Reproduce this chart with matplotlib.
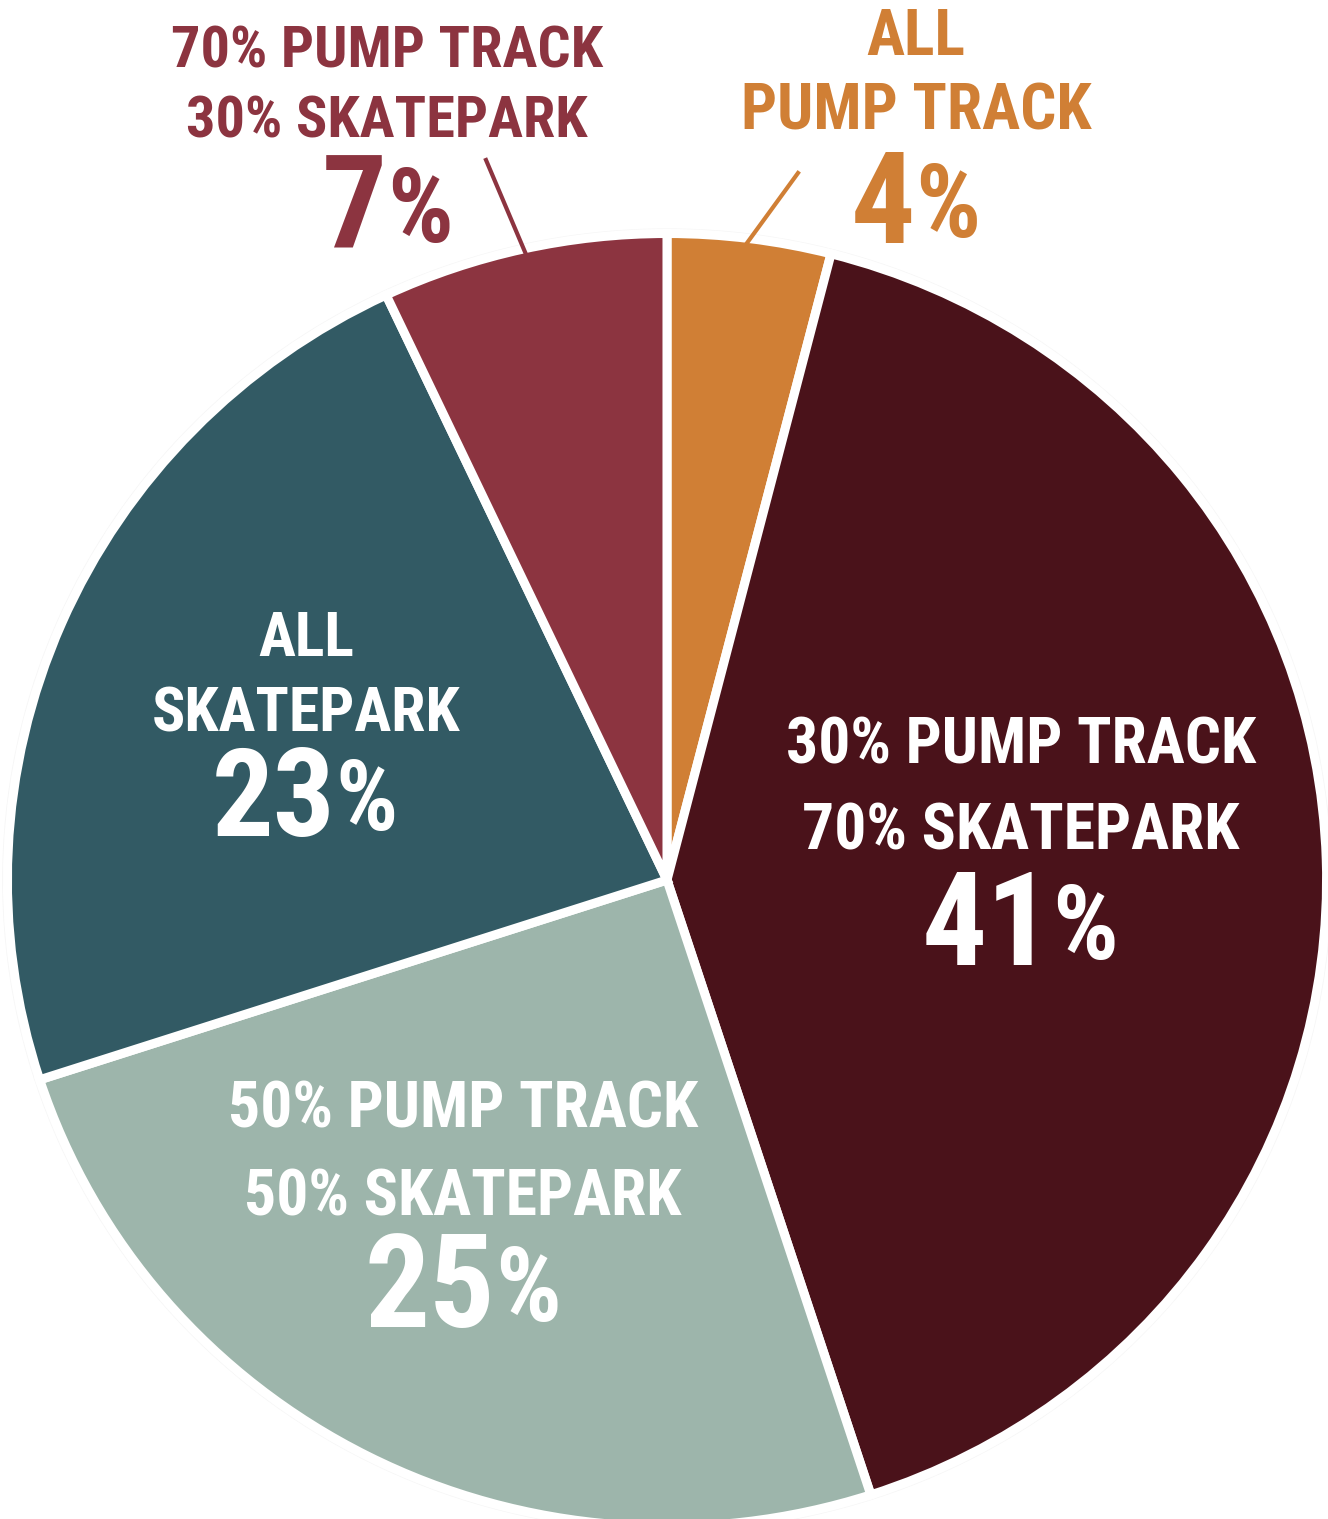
import matplotlib
matplotlib.use("Agg")
import matplotlib.pyplot as plt
from matplotlib import font_manager
from matplotlib.patches import Ellipse

# slice data, clockwise from 12 o'clock
shares = [4, 41, 25, 23, 7]
colors = ["#D07F35", "#4A121A", "#9DB5AB", "#325A64", "#8C3440"]
label_lines = [
    ["ALL", "PUMP TRACK"],
    ["30% PUMP TRACK", "70% SKATEPARK"],
    ["50% PUMP TRACK", "50% SKATEPARK"],
    ["ALL", "SKATEPARK"],
    ["70% PUMP TRACK", "30% SKATEPARK"],
]
label_colors = ["#D07F35", "white", "white", "white", "#8C3440"]

# pick a condensed face if there is one
names = {f.name for f in font_manager.fontManager.ttflist}
FONT = "Roboto"
for cand in ["Roboto Condensed", "Liberation Sans Narrow"]:
    if cand in names:
        FONT = cand
        break

W, H = 1328, 1519
CX, CY, RX, RY = 667, 880, 655, 642   # pie centre / radii in image pixels

fig = plt.figure(figsize=(W / 100, H / 100), dpi=100)
fig.patch.set_facecolor("white")

pax = fig.add_axes([0, 0, 1, 1])
pax.pie(shares, colors=colors, startangle=90, counterclock=False,
        radius=1.007, wedgeprops=dict(edgecolor="white", linewidth=6.5))
pax.add_patch(Ellipse((0, 0), 2.03, 2.03, facecolor="#f6f6f6", edgecolor="none", zorder=0))
pax.set_aspect("auto")
pax.set_xlim(-CX / RX, (W - CX) / RX)
pax.set_ylim(-(H - CY) / RY, CY / RY)
pax.axis("off")

# text layer in image pixel coordinates
tax = fig.add_axes([0, 0, 1, 1])
tax.set_xlim(0, W)
tax.set_ylim(H, 0)
tax.axis("off")
tax.patch.set_alpha(0)

# (x centre, baseline line1, baseline line2, pt), big number (x centre, baseline, pt)
line_pos = [(916, 55, 130, 45.8), (1021, 763, 850, 45.8), (463, 1127, 1215, 45.8),
            (306, 656, 732, 44.5), (387, 67, 137, 42)]
big_pos = [(916, 243, 92), (1020, 965, 93), (463, 1327, 93), (305, 836, 88), (387, 248, 93)]

for i in range(len(shares)):
    xc, b1, b2, pt = line_pos[i]
    for txt, yb in zip(label_lines[i], (b1, b2)):
        tax.text(xc, yb, txt, ha="center", va="baseline", fontsize=pt,
                 fontweight="bold", family=FONT, color=label_colors[i])

renderer = fig.canvas.get_renderer()
for i, val in enumerate(shares):
    xc, yb, pt = big_pos[i]
    t1 = tax.text(0, yb, str(val), ha="left", va="baseline", fontsize=pt,
                  fontweight="bold", family=FONT, color=label_colors[i])
    t2 = tax.text(0, yb - 6, "%", ha="left", va="baseline", fontsize=pt * 0.8,
                  fontweight="bold", family=FONT, color=label_colors[i])
    w1 = t1.get_window_extent(renderer).width
    w2 = t2.get_window_extent(renderer).width
    x0 = xc - (w1 + w2) / 2
    t1.set_x(x0)
    t2.set_x(x0 + w1)

# leader lines for the two small slices
tax.plot([798, 747], [173, 243], color="#D07F35", lw=3)
tax.plot([486, 525], [160, 252], color="#8C3440", lw=3)

fig.savefig("out.png", dpi=100, facecolor="white")
